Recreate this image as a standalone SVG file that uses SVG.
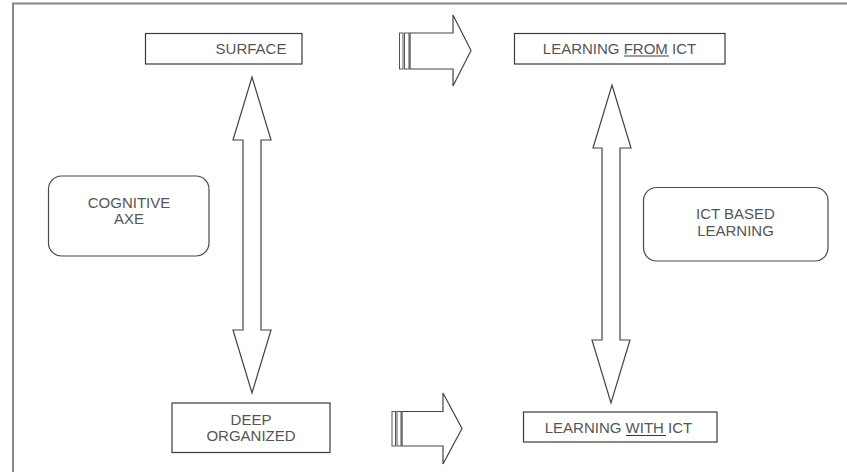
<svg xmlns="http://www.w3.org/2000/svg" width="847" height="472" viewBox="0 0 847 472">
  <style>
    .box { fill: #fff; stroke: #3a3a3a; stroke-width: 1.2; }
    .rbox { fill: #fff; stroke: #4a4a4a; stroke-width: 1.2; }
    .arrow { fill: #fff; stroke: #444; stroke-width: 1.2; stroke-linejoin: miter; }
    .bar { fill: #fff; stroke: #555; stroke-width: 1; }
    .label { font-family: "Liberation Sans", Arial, sans-serif; font-size: 15px; fill: #555; text-anchor: middle; }
    .ul { stroke: #3c3c3c; stroke-width: 1.2; }
  </style>

  <!-- page frame (top and left edges) -->
  <path d="M13,472 V3.5 H847" fill="none" stroke="#888" stroke-width="2"/>

  <!-- connectors -->
  <g id="connectors">
    <!-- vertical two-headed arrow: SURFACE / DEEP ORGANIZED -->
    <path class="arrow" d="M252,77 L271,140 L261,140 L261,330 L271,330 L252,393 L233,330 L243,330 L243,140 L233,140 Z"/>
    <!-- vertical two-headed arrow: LEARNING FROM ICT / LEARNING WITH ICT -->
    <path class="arrow" d="M612,85 L631,148 L620,148 L620,340 L630,340 L611,403 L592,340 L602,340 L602,148 L593,148 Z"/>
    <!-- striped right arrow, top -->
    <g id="arrow-top">
      <rect class="bar" x="399.5" y="33" width="3.5" height="36"/>
      <rect class="bar" x="404.5" y="33" width="4.5" height="36"/>
      <path class="arrow" d="M410,33 L453,33 L453,15 L471,50.5 L453,86 L453,69 L410,69 Z"/>
    </g>
    <!-- striped right arrow, bottom -->
    <g id="arrow-bottom">
      <rect class="bar" x="392" y="411.5" width="3.5" height="34.5"/>
      <rect class="bar" x="397" y="411.5" width="4" height="34.5"/>
      <path class="arrow" d="M402,411.5 L443,411.5 L443,393 L462,428.5 L443,464 L443,446 L402,446 Z"/>
    </g>
  </g>

  <g id="surface">
    <rect class="box" x="145.5" y="33.5" width="156.5" height="30.5"/>
    <text class="label" x="251" y="54">SURFACE</text>
  </g>

  <g id="learning-from-ict">
    <rect class="box" x="514.5" y="33.5" width="210.5" height="30.5"/>
    <text class="label" x="619.5" y="54">LEARNING FROM ICT</text>
    <line class="ul" x1="624" y1="56" x2="669" y2="56"/>
  </g>

  <g id="cognitive-axe">
    <rect class="rbox" x="48.5" y="176" width="160.5" height="80" rx="13" ry="13"/>
    <text class="label" x="129" y="208">COGNITIVE</text>
    <text class="label" x="129" y="224">AXE</text>
  </g>

  <g id="ict-based-learning">
    <rect class="rbox" x="643.5" y="187.5" width="184.5" height="73.5" rx="13" ry="13"/>
    <text class="label" x="735.5" y="219">ICT BASED</text>
    <text class="label" x="735.5" y="236">LEARNING</text>
  </g>

  <g id="deep-organized">
    <rect class="box" x="172" y="403" width="158" height="49.5"/>
    <text class="label" x="251" y="425">DEEP</text>
    <text class="label" x="251" y="441">ORGANIZED</text>
  </g>

  <g id="learning-with-ict">
    <rect class="box" x="523.5" y="412" width="193.5" height="30"/>
    <text class="label" x="618.5" y="433">LEARNING WITH ICT</text>
    <line class="ul" x1="626" y1="435.5" x2="666" y2="435.5"/>
  </g>
</svg>
